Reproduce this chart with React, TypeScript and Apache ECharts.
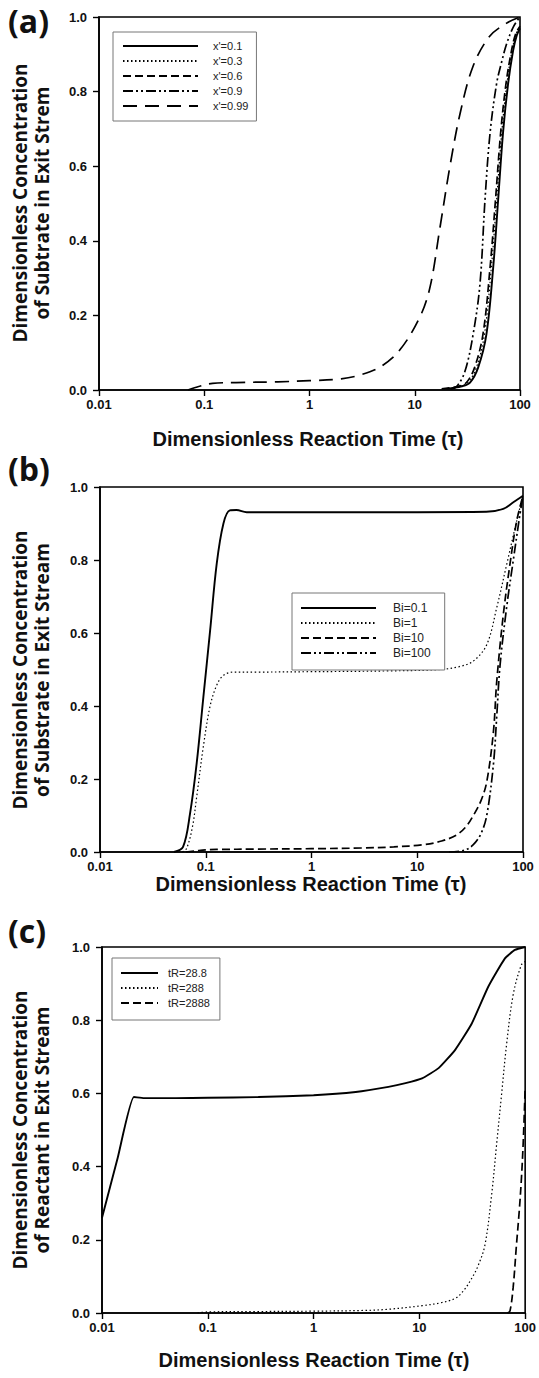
import React, { useEffect, useRef } from "react";
import * as echarts from "echarts";

const xTickLabels = ["0.01", "0.1", "1", "10", "100"];

// Panel (a)
const aNames = ["x'=0.1", "x'=0.3", "x'=0.6", "x'=0.9", "x'=0.99"];
const aTau01 = [20, 28, 33.5, 40, 48, 55.7, 62, 69, 77, 86, 93, 100];
const aVal01 = [0.003, 0.01, 0.02, 0.06, 0.15, 0.33, 0.51, 0.69, 0.82, 0.91, 0.95, 0.97];
const aTau03 = [19, 27, 32, 38.5, 46, 53.5, 60, 67, 75, 84, 92, 100];
const aVal03 = [0.003, 0.01, 0.02, 0.06, 0.15, 0.33, 0.51, 0.69, 0.82, 0.91, 0.955, 0.975];
const aTau06 = [18, 26, 31, 37, 44.5, 52, 58.5, 65.5, 73.5, 83, 91, 100];
const aVal06 = [0.003, 0.01, 0.02, 0.06, 0.15, 0.33, 0.51, 0.69, 0.82, 0.91, 0.955, 0.975];
const aTau09 = [22, 25, 30, 36, 41.7, 46.5, 51.9, 60, 67, 74.8, 87, 100];
const aVal09 = [0.002, 0.009, 0.05, 0.152, 0.286, 0.51, 0.688, 0.822, 0.88, 0.929, 0.975, 1.0];
const aTau099 = [0.07, 0.09, 0.12, 0.2, 0.5, 1, 2, 3, 4.7, 7.2, 11.2, 14, 17.4, 21.6, 27, 35.6, 51, 74, 100];
const aVal099 = [0, 0.01, 0.018, 0.02, 0.022, 0.025, 0.03, 0.04, 0.062, 0.107, 0.196, 0.277, 0.437, 0.6, 0.742, 0.866, 0.947, 0.983, 1.0];

// Panel (b)
const bNames = ["Bi=0.1", "Bi=1", "Bi=10", "Bi=100"];
const bTau01 = [0.05, 0.061, 0.071, 0.082, 0.095, 0.11, 0.127, 0.147, 0.169, 0.195, 0.244, 1, 10, 45, 65, 81, 100];
const bVal01 = [0, 0.014, 0.105, 0.242, 0.425, 0.607, 0.79, 0.9, 0.936, 0.937, 0.931, 0.931, 0.931, 0.932, 0.94, 0.958, 0.976];
const bTau1 = [0.06, 0.066, 0.075, 0.082, 0.095, 0.11, 0.127, 0.147, 0.183, 0.3, 1, 5, 16.4, 25, 33.9, 45.4, 56.4, 70, 87, 100];
const bVal1 = [0, 0.01, 0.07, 0.15, 0.29, 0.4, 0.457, 0.484, 0.493, 0.493, 0.494, 0.496, 0.5, 0.508, 0.523, 0.568, 0.669, 0.787, 0.906, 0.976];
const bTau10 = [0.065, 0.08, 0.1, 0.13, 0.3, 1, 3, 6, 11.4, 17, 23.6, 29, 33.9, 40, 45.4, 52.5, 56.4, 65, 75, 87, 100];
const bVal10 = [0, 0.003, 0.006, 0.007, 0.008, 0.009, 0.011, 0.014, 0.02, 0.03, 0.047, 0.07, 0.1, 0.14, 0.192, 0.329, 0.466, 0.648, 0.785, 0.906, 0.976];
const bTau100 = [20, 28, 33.9, 40, 45.4, 52.5, 56.4, 60.6, 70, 81, 93, 100];
const bVal100 = [0, 0.005, 0.02, 0.05, 0.1, 0.24, 0.37, 0.51, 0.67, 0.8, 0.92, 0.976];

// Panel (c)
const cNames = ["tR=28.8", "tR=288", "tR=2888"];
const cTau288a = [0.01, 0.0141, 0.02, 0.025, 0.05, 0.1, 0.3, 1, 2.5, 5.1, 7.4, 10.6, 15.2, 21.8, 31.3, 44.9, 64.4, 80, 100];
const cVal288a = [0.26, 0.425, 0.59, 0.587, 0.587, 0.588, 0.59, 0.595, 0.604, 0.618, 0.628, 0.641, 0.669, 0.719, 0.791, 0.892, 0.969, 0.992, 1.0];
const cTau288 = [0.08, 0.1, 0.3, 1, 3, 5, 10.6, 16, 21.8, 26, 31.3, 36, 41.7, 48.2, 53.7, 59.8, 66.7, 77, 92, 100];
const cVal288 = [0, 0.003, 0.004, 0.005, 0.007, 0.01, 0.02, 0.028, 0.04, 0.06, 0.095, 0.13, 0.186, 0.323, 0.46, 0.596, 0.733, 0.869, 0.951, 0.96];
const cTau2888 = [68, 71.8, 77, 82.8, 88, 92.3, 96, 100];
const cVal2888 = [0, 0.005, 0.07, 0.187, 0.28, 0.37, 0.47, 0.615];

const SOLID = "solid";
const DOTTED = [1.5, 2.5];
const DASHED = [8, 4];
const DASHDOTDOT = [10, 3, 2, 3, 2, 3];
const LONGDASH = [14, 8];

const pairs = (t: number[], v: number[]) => t.map((x, i) => [x, v[i]]);

const ARIAL = "'Liberation Sans'";
const tickFont = { fontFamily: ARIAL, fontWeight: "bold" as const, fontSize: 13, color: "#111" };

export default function App() {
  const ref = useRef<HTMLDivElement>(null);
  useEffect(() => {
    document.body.style.margin = "0";
    const chart = echarts.init(ref.current!, null, { renderer: "svg" });
    const grids = [
      { left: 99, top: 17, width: 421, height: 373 },
      { left: 100, top: 487, width: 423, height: 365 },
      { left: 102, top: 947, width: 425, height: 366 },
    ];
    const mkX = (i: number) => ({
      type: "log",
      logBase: 10,
      gridIndex: i,
      min: 0.01,
      max: 100,
      axisLine: { lineStyle: { color: "#000", width: 1.6 } },
      axisTick: { show: true, inside: false, length: 6, lineStyle: { color: "#000", width: 1.4 } },
      minorTick: { show: false },
      splitLine: { show: false },
      axisLabel: {
        ...tickFont,
        margin: 8,
        formatter: (v: number) => xTickLabels[Math.round(Math.log10(v)) + 2] ?? "",
      },
    });
    const mkY = (i: number) => ({
      type: "value",
      gridIndex: i,
      min: 0,
      max: 1,
      interval: 0.2,
      axisLine: { show: true, lineStyle: { color: "#000", width: 1.6 } },
      axisTick: { show: true, inside: false, length: 6, lineStyle: { color: "#000", width: 1.4 } },
      splitLine: { show: false },
      axisLabel: { ...tickFont, margin: 12, formatter: (v: number) => v.toFixed(1) },
    });
    const mkS = (name: string, i: number, t: number[], v: number[], type: any, width = 1.7, smooth = 0.35) => ({
      name,
      type: "line",
      xAxisIndex: i,
      yAxisIndex: i,
      data: pairs(t, v),
      showSymbol: false,
      symbol: "none",
      smooth,
      lineStyle: { color: "#000", width, type },
      itemStyle: { color: "#000" },
    });
    const legendBase = {
      orient: "vertical",
      backgroundColor: "#fff",
      borderColor: "#777",
      borderWidth: 1,
      itemHeight: 14,
      itemGap: 1,
      selectedMode: false,
      itemStyle: { color: "rgba(0,0,0,0)", borderColor: "rgba(0,0,0,0)", borderWidth: 0 },
      textStyle: { fontFamily: ARIAL, fontSize: 11, color: "#222", lineHeight: 14 },
    };
    const xTitle = (x: number, y: number) => ({
      type: "text",
      x,
      y,
      style: {
        text: "Dimensionless Reaction Time (τ)",
        fontFamily: ARIAL,
        fontWeight: "bold",
        fontSize: 20,
        fill: "#111",
        align: "center",
        verticalAlign: "middle",
      },
    });
    const yTitle = (x: number, y: number, line2: string) => ({
      type: "text",
      x,
      y,
      rotation: Math.PI / 2,
      style: {
        text: "Dimensionless Concentration\n" + line2,
        fontFamily: "'Open Sans'",
        fontWeight: "bold",
        fontSize: 19,
        fill: "#111",
        lineHeight: 22,
        align: "center",
        verticalAlign: "middle",
      },
    });
    const pLabel = (y: number, t: string) => ({
      type: "text",
      x: 8,
      y,
      style: { text: t, fontFamily: "'Open Sans'", fontWeight: "bold", fontSize: 32, fill: "#111", verticalAlign: "middle" },
    });
    chart.setOption({
      animation: false,
      backgroundColor: "#fff",
      grid: grids.map((g) => ({ ...g, show: true, borderColor: "#000", borderWidth: 1.6, backgroundColor: "transparent" })),
      xAxis: [mkX(0), mkX(1), mkX(2)],
      yAxis: [mkY(0), mkY(1), mkY(2)],
      legend: [
        { ...legendBase, data: aNames, left: 113, top: 32, padding: [7, 8, 8, 9], itemWidth: 75, itemGap: 1,
          textStyle: { ...legendBase.textStyle, padding: [0, 0, 0, 10] } },
        { ...legendBase, data: bNames, left: 292, top: 593, padding: [8, 14, 10, 8], itemWidth: 75, itemGap: 1,
          textStyle: { ...legendBase.textStyle, fontSize: 12, padding: [0, 0, 0, 12] } },
        { ...legendBase, data: cNames, left: 112, top: 958, padding: [8, 10, 10, 8], itemWidth: 37, itemGap: 1,
          textStyle: { ...legendBase.textStyle, padding: [0, 0, 0, 5] } },
      ],
      series: [
        mkS(aNames[0], 0, aTau01, aVal01, SOLID, 1.9),
        mkS(aNames[1], 0, aTau03, aVal03, DOTTED, 1.2),
        mkS(aNames[2], 0, aTau06, aVal06, DASHED),
        mkS(aNames[3], 0, aTau09, aVal09, DASHDOTDOT),
        mkS(aNames[4], 0, aTau099, aVal099, LONGDASH),
        mkS(bNames[0], 1, bTau01, bVal01, SOLID, 1.9),
        mkS(bNames[1], 1, bTau1, bVal1, DOTTED, 1.2),
        mkS(bNames[2], 1, bTau10, bVal10, DASHED),
        mkS(bNames[3], 1, bTau100, bVal100, DASHDOTDOT),
        mkS(cNames[0], 2, cTau288a, cVal288a, SOLID, 1.9, 0.15),
        mkS(cNames[1], 2, cTau288, cVal288, DOTTED, 1.2),
        mkS(cNames[2], 2, cTau2888, cVal2888, DASHED),
      ],
      graphic: [
        pLabel(20, "(a)"),
        pLabel(468, "(b)"),
        pLabel(930, "(c)"),
        yTitle(31, 203, "of Subtrate in Exit Strem"),
        yTitle(31, 670, "of Substrate in Exit Stream"),
        yTitle(31, 1130, "of Reactant in Exit Stream"),
        xTitle(308, 439),
        xTitle(311, 884),
        xTitle(314, 1360),
      ],
    });
    return () => chart.dispose();
  }, []);
  return <div ref={ref} style={{ width: 539, height: 1378 }} />;
}
